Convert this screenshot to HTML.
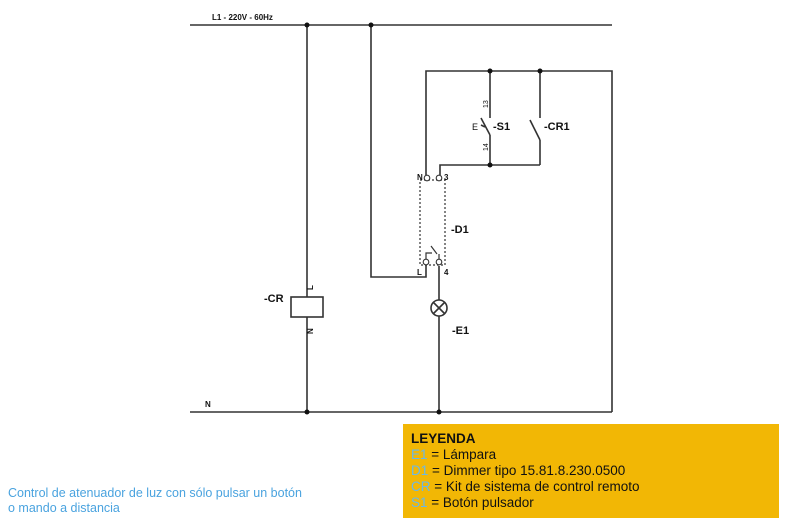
<!DOCTYPE html>
<html><head><meta charset="utf-8"><style>
html,body{margin:0;padding:0;background:#fff;}
body{width:800px;height:524px;position:relative;overflow:hidden;font-family:"Liberation Sans",sans-serif;}
.leg{position:absolute;left:403px;top:424px;width:376px;height:94px;background:#f2b705;}
.leg div{position:absolute;left:8px;font-size:13.5px;color:#111;}
.b{color:#6ab8e8;}
.cap{position:absolute;left:8px;top:486px;color:#4aa3df;font-size:12.5px;line-height:15px;}
</style></head><body>
<svg width="800" height="524" style="position:absolute;left:0;top:0" font-family="Liberation Sans, sans-serif">
<g stroke="#333" stroke-width="1.6" fill="none">
<line x1="190" y1="25" x2="612" y2="25"/>
<line x1="190" y1="412" x2="612" y2="412"/>
<line x1="307" y1="25" x2="307" y2="297"/>
<rect x="291" y="297" width="32" height="20" fill="#fff"/>
<line x1="307" y1="317" x2="307" y2="412"/>
<polyline points="371,25 371,277 426,277 426,265"/>
<polyline points="426,175 426,71 612,71 612,412"/>
<polyline points="440,175 440,165 540,165"/>
<polyline points="490,71 490,118"/>
<line x1="490" y1="135" x2="481" y2="118"/>
<polyline points="490,135 490,165"/>
<line x1="481" y1="125" x2="485" y2="127"/>
<polyline points="540,71 540,118"/>
<line x1="540" y1="140" x2="530" y2="120"/>
<polyline points="540,140 540,165"/>
<line x1="439" y1="266" x2="439" y2="300"/>
<circle cx="439" cy="308" r="8" fill="#fff"/>
<line x1="433" y1="302" x2="445" y2="314"/>
<line x1="445" y1="302" x2="433" y2="314"/>
<line x1="439" y1="316" x2="439" y2="412"/>
<polyline points="426,259 426,253 432,253" stroke-width="1.2"/>
<line x1="431" y1="246" x2="437" y2="254" stroke-width="1.2"/>
<line x1="439" y1="254" x2="439" y2="259" stroke-width="1.2"/>
</g>
<g stroke="#333" stroke-width="1.2" fill="none" stroke-dasharray="2,2">
<rect x="420" y="180" width="25" height="85"/>
</g>
<g stroke="#333" stroke-width="1.1" fill="#fff">
<circle cx="427" cy="178" r="2.8"/><circle cx="439" cy="178" r="2.8"/>
<circle cx="426" cy="262" r="2.8"/><circle cx="439" cy="262" r="2.8"/>
</g>
<g fill="#111">
<circle cx="307" cy="25" r="2.5"/><circle cx="371" cy="25" r="2.5"/>
<circle cx="490" cy="71" r="2.5"/><circle cx="540" cy="71" r="2.5"/>
<circle cx="490" cy="165" r="2.5"/><circle cx="307" cy="412" r="2.5"/><circle cx="439" cy="412" r="2.5"/>
</g>
<g fill="#111" font-weight="bold">
<text x="212" y="20" font-size="8">L1 - 220V - 60Hz</text>
<text x="205" y="407" font-size="8">N</text>
<text x="264" y="302" font-size="11">-CR</text>
<text x="313" y="290" font-size="8" transform="rotate(-90 313 290)">L</text>
<text x="313" y="334" font-size="8" transform="rotate(-90 313 334)">N</text>
<text x="417" y="180" font-size="8">N</text>
<text x="444" y="180" font-size="8">3</text>
<text x="417" y="275" font-size="8">L</text>
<text x="444" y="275" font-size="8">4</text>
<text x="451" y="233" font-size="11">-D1</text>
<text x="452" y="334" font-size="11">-E1</text>
<text x="493" y="130" font-size="11">-S1</text>
<text x="544" y="130" font-size="11">-CR1</text>
</g>
<g fill="#111" font-size="7">
<text x="488" y="108" transform="rotate(-90 488 108)">13</text>
<text x="488" y="151" transform="rotate(-90 488 151)">14</text>
<text x="472" y="130" font-size="9">E</text>
</g>
</svg>
<div class="leg">
<div style="top:7px;font-weight:bold;" class="b">LEYENDA</div>
<div style="top:23px"><span class="b">E1</span> = Lámpara</div>
<div style="top:39px"><span class="b">D1</span> = Dimmer tipo 15.81.8.230.0500</div>
<div style="top:55px"><span class="b">CR</span> = Kit de sistema de control remoto</div>
<div style="top:71px"><span class="b">S1</span> = Botón pulsador</div>
</div>
<div class="cap">Control de atenuador de luz con sólo pulsar un botón<br>o mando a distancia</div>
</body></html>
